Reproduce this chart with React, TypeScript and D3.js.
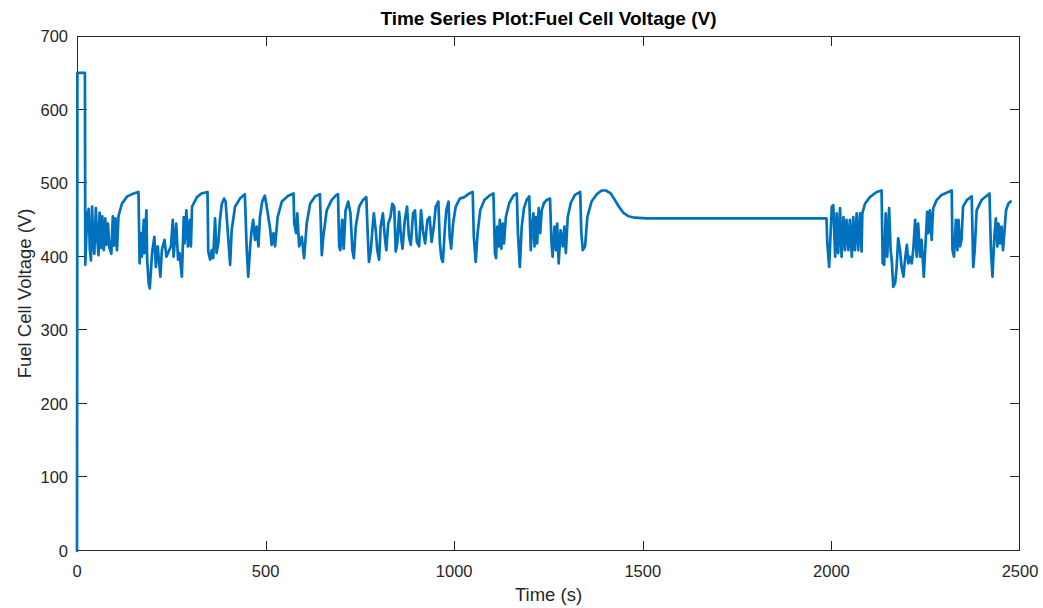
import React from 'react';
import * as d3 from 'd3';

type Pt = [number, number];

const titleText = 'Time Series Plot:Fuel Cell Voltage (V)';
const xLabel = 'Time (s)';
const yLabel = 'Fuel Cell Voltage (V)';
const xTicks = [0, 500, 1000, 1500, 2000, 2500];
const yTicks = [0, 100, 200, 300, 400, 500, 600, 700];

// startup + first drive segment (time s, voltage V)
const startup: Pt[] = [
  [0, 0], [1, 650], [21, 650], [22, 389], [25, 430], [28, 458], [31, 465], [34, 410], [37, 395],
  [40, 468], [43, 420], [46, 404], [50, 466], [53, 430], [57, 402], [60, 460], [64, 412], [67, 455],
  [71, 409], [75, 452], [78, 416], [82, 445], [86, 412], [91, 404], [95, 455], [98, 415], [102, 452],
  [106, 409], [110, 455], [119, 472], [133, 482], [150, 486], [163, 488], [166, 391], [170, 432],
  [172, 400], [177, 450], [179, 405], [184, 463], [186, 396], [190, 364], [193, 357], [199, 405],
  [205, 427], [209, 386], [214, 414], [221, 373], [225, 409], [232, 423], [237, 400], [243, 407],
  [249, 414], [254, 450], [256, 400], [263, 445], [268, 396], [272, 405], [278, 373], [283, 454],
  [285, 418], [290, 463], [294, 414], [299, 450], [302, 414], [305, 468], [318, 481], [330, 486],
  [346, 488],
];

const segmentB: Pt[] = [
  [348, 407], [353, 396], [357, 409], [361, 398], [366, 452], [370, 405], [375, 420], [379, 450],
  [384, 472], [390, 479], [394, 475], [406, 389], [410, 436], [419, 468], [432, 479], [445, 485],
  [450, 409], [454, 373], [459, 414], [463, 436], [467, 450], [472, 423], [476, 441], [481, 414],
  [485, 454], [491, 475], [498, 483], [503, 468], [512, 438], [516, 416], [521, 432], [525, 414],
  [532, 454], [543, 475], [560, 483], [574, 486], [576, 445], [581, 432], [584, 459], [589, 414],
  [596, 427], [602, 398], [609, 445], [618, 472], [631, 482], [644, 485], [649, 402], [653, 427],
  [662, 463], [675, 477], [684, 482],
];

const segmentC: Pt[] = [
  [688, 484], [692, 485], [695, 414], [698, 409], [703, 450], [707, 411], [712, 463], [719, 475],
  [725, 459], [730, 409], [734, 398], [739, 441], [748, 468], [758, 477], [767, 481], [771, 427],
  [774, 393], [779, 409], [783, 436], [787, 459], [792, 436], [796, 409], [801, 396], [805, 441],
  [811, 459], [816, 427], [820, 409], [825, 445], [831, 454], [836, 472], [841, 468], [845, 407],
  [849, 418], [854, 461], [859, 427], [863, 411], [869, 450], [875, 468], [880, 427], [885, 416],
  [891, 459], [896, 463], [901, 420], [907, 414], [912, 463], [917, 436], [923, 418], [929, 450],
  [935, 454], [940, 420], [946, 441], [951, 468], [958, 475], [962, 418], [966, 398], [970, 393],
  [975, 436], [979, 463], [985, 475], [988, 427], [992, 411], [997, 445], [1004, 468], [1015, 479],
  [1027, 481], [1040, 486], [1049, 488],
];

const segmentD: Pt[] = [
  [1052, 427], [1057, 393], [1062, 432], [1069, 463], [1080, 477], [1093, 483], [1104, 486],
  [1108, 405], [1111, 398], [1114, 441], [1118, 414], [1121, 450], [1125, 411], [1129, 445],
  [1132, 418], [1137, 454], [1146, 473], [1157, 483], [1166, 486], [1169, 432], [1174, 386],
  [1179, 441], [1185, 466], [1192, 477], [1199, 482], [1203, 409], [1206, 436], [1210, 459],
  [1213, 414], [1217, 454], [1220, 418], [1224, 466], [1228, 432], [1232, 463], [1238, 473],
  [1245, 477], [1254, 479], [1258, 418], [1261, 400], [1266, 441], [1270, 409], [1273, 445],
  [1277, 391], [1282, 436], [1288, 414], [1292, 441], [1296, 405], [1301, 454], [1309, 473],
  [1320, 484], [1334, 488], [1337, 432], [1341, 409], [1347, 414], [1353, 454], [1364, 475],
  [1378, 485], [1391, 490], [1402, 490], [1415, 486], [1426, 477], [1438, 467], [1448, 460],
  [1462, 455], [1479, 453], [1510, 452],
];

const idleHold: Pt[] = [[1987, 452]];

const segmentE: Pt[] = [
  [1989, 420], [1994, 386], [2001, 468], [2005, 470], [2010, 400], [2014, 459], [2018, 405],
  [2023, 466], [2027, 400], [2032, 454], [2036, 409], [2040, 450], [2045, 409], [2049, 450],
  [2054, 400], [2058, 454], [2062, 409], [2067, 459], [2071, 409], [2076, 459], [2080, 407],
  [2082, 459], [2089, 472], [2102, 481], [2120, 488], [2133, 490], [2136, 391], [2140, 389],
  [2144, 459], [2148, 400], [2153, 466], [2157, 409], [2160, 395], [2164, 359], [2169, 364],
  [2173, 386], [2177, 425], [2182, 409], [2186, 386], [2191, 373], [2195, 395], [2200, 416],
  [2204, 391], [2208, 400], [2213, 391], [2217, 409], [2222, 450], [2226, 400], [2230, 445],
  [2235, 400], [2239, 423], [2245, 373], [2251, 432], [2254, 461], [2257, 432], [2261, 463],
  [2266, 423], [2268, 450], [2270, 466], [2279, 477], [2292, 484], [2319, 490], [2321, 409],
  [2325, 400], [2330, 450], [2334, 409], [2337, 450], [2341, 414], [2345, 423], [2349, 468],
  [2359, 477], [2372, 482], [2376, 386], [2380, 409], [2385, 463], [2398, 477], [2419, 486],
  [2423, 409], [2427, 373], [2432, 427], [2436, 452], [2440, 414], [2443, 445], [2447, 418],
  [2451, 441], [2455, 409], [2459, 436], [2463, 463], [2469, 472], [2475, 475],
];

const AX = '#262626';
const LINE = '#0072BD';
const FONT = '"Liberation Sans", Arial, Helvetica, sans-serif';

export default function App() {
  const left = 77, right = 1020, top = 36, bottom = 551;
  const x = d3.scaleLinear().domain([0, 2500]).range([left, right]);
  const y = d3.scaleLinear().domain([0, 700]).range([bottom, top]);
  const data: Pt[] = [...startup, ...segmentB, ...segmentC, ...segmentD, ...idleHold, ...segmentE];
  const path = d3.line<Pt>().x(d => x(d[0])).y(d => y(d[1]))(data) || '';
  const tl = 10;

  return (
    <svg width={1043} height={608} style={{ position: 'absolute', left: 0, top: 0, background: '#fff' }}>
      <rect x={0} y={0} width={1043} height={608} fill="#fff" />
      <g stroke={AX} strokeWidth={1} fill="none">
        <rect x={left + 0.5} y={top + 0.5} width={right - left - 1} height={bottom - top - 1} />
        {xTicks.map(t => (
          <g key={'xt' + t}>
            <line x1={Math.min(Math.round(x(t)), right - 1) + 0.5} x2={Math.min(Math.round(x(t)), right - 1) + 0.5} y1={bottom} y2={bottom - tl} />
            <line x1={Math.min(Math.round(x(t)), right - 1) + 0.5} x2={Math.min(Math.round(x(t)), right - 1) + 0.5} y1={top} y2={top + tl} />
          </g>
        ))}
        {yTicks.map(t => (
          <g key={'yt' + t}>
            <line x1={left} x2={left + tl} y1={Math.max(Math.round(y(t)), top + 1) - 0.5} y2={Math.max(Math.round(y(t)), top + 1) - 0.5} />
            <line x1={right} x2={right - tl} y1={Math.max(Math.round(y(t)), top + 1) - 0.5} y2={Math.max(Math.round(y(t)), top + 1) - 0.5} />
          </g>
        ))}
      </g>
      <path d={path} fill="none" stroke={LINE} strokeWidth={2.7} strokeLinejoin="round" strokeLinecap="round" />
      <g fontFamily={FONT} fontSize={16.5} fill={AX}>
        {xTicks.map(t => (
          <text key={'xl' + t} x={x(t)} y={577} textAnchor="middle">{t}</text>
        ))}
        {yTicks.map(t => (
          <text key={'yl' + t} x={68} y={y(t) + 6} textAnchor="end">{t}</text>
        ))}
      </g>
      <text x={(left + right) / 2} y={601} textAnchor="middle" fontFamily={FONT} fontSize={18.5} fill={AX}>{xLabel}</text>
      <text transform={`translate(31, ${(top + bottom) / 2}) rotate(-90)`} textAnchor="middle" fontFamily={FONT} fontSize={18.5} fill={AX}>{yLabel}</text>
      <text x={(left + right) / 2} y={25} textAnchor="middle" fontFamily={FONT} fontSize={19} fontWeight="bold" fill="#000">{titleText}</text>
    </svg>
  );
}
